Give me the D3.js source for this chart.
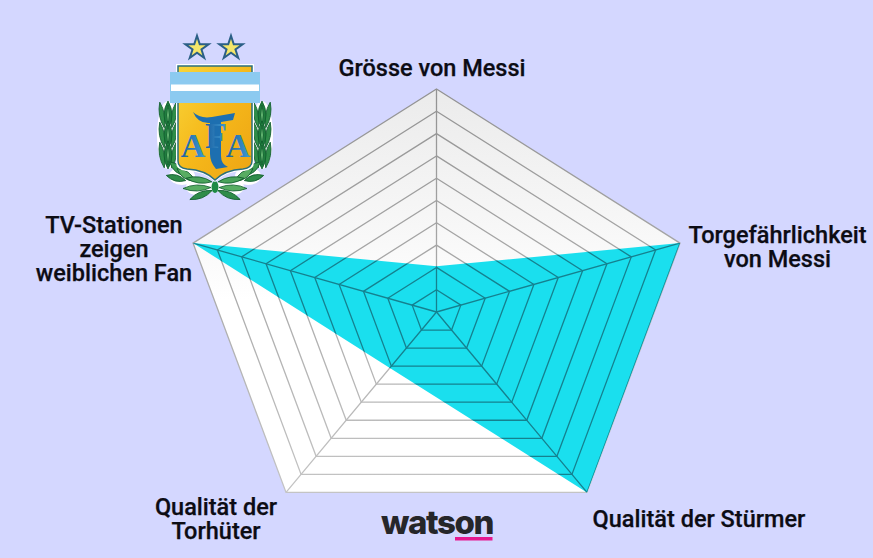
<!DOCTYPE html>
<html>
<head>
<meta charset="utf-8">
<script src="https://cdn.jsdelivr.net/npm/d3@7"></script>
<style>
  html, body { margin: 0; padding: 0; background: #d4d7ff; }
  svg { display: block; }
  text { font-family: Roboto, sans-serif; }
</style>
</head>
<body>
<script>
// chart data
var axes = ["Grösse von Messi", "Torgefährlichkeit", "Qualität der Stürmer", "Qualität der Torhüter", "TV-Stationen"];
var values = [2.05, 10, 10, 3.1, 10];
var levels = [1, 2, 3, 4, 5, 6, 7, 8, 9, 10];

// labels, one entry per line
var labelLines = [
  ["Grösse von Messi"],
  ["Torgefährlichkeit", "von Messi"],
  ["Qualität der Stürmer"],
  ["Qualität der", "Torhüter"],
  ["TV-Stationen", "zeigen", "weiblichen Fan"]
];
var labelX = [432, 777.5, 699, 216, 114];
var labelY = [76, 243, 527, 515, 233];

var width = 873, height = 558;
var cx = 436.5, cy = 312;

var svg = d3.select("body").append("svg")
    .attr("width", width)
    .attr("height", height);

var defs = svg.append("defs");
var bgGrad = defs.append("linearGradient")
    .attr("id", "bgGrad")
    .attr("gradientUnits", "userSpaceOnUse")
    .attr("x1", 0).attr("x2", 0).attr("y1", 89).attr("y2", 300);
bgGrad.append("stop").attr("offset", "0").attr("stop-color", "#ebebeb");
bgGrad.append("stop").attr("offset", "0.7").attr("stop-color", "#f8f8f8");
bgGrad.append("stop").attr("offset", "1").attr("stop-color", "#ffffff");

// grid lines get paler towards the bottom of the pentagon
var lineGrad = defs.append("linearGradient")
    .attr("id", "lineGrad")
    .attr("gradientUnits", "userSpaceOnUse")
    .attr("x1", 0).attr("x2", 0).attr("y1", 89).attr("y2", 492);
lineGrad.append("stop").attr("offset", "0").attr("stop-color", "#929292");
lineGrad.append("stop").attr("offset", "1").attr("stop-color", "#c4c4c4");

// the picture is stretched sideways, so x and y get their own radius
var rx = d3.scaleLinear().domain([0, 10]).range([0, 256]);
var ry = d3.scaleLinear().domain([0, 10]).range([0, 223]);
var angle = d3.scalePoint().domain(d3.range(axes.length + 1)).range([0, 2 * Math.PI]);

function px(i, v) { return cx + rx(v) * Math.sin(angle(i)); }
function py(i, v) { return cy - ry(v) * Math.cos(angle(i)); }

var radar = d3.line()
    .x(function(d) { return px(d.i, d.v); })
    .y(function(d) { return py(d.i, d.v); })
    .curve(d3.curveLinearClosed);

function ring(v) {
  return axes.map(function(a, i) { return {i: i, v: v}; });
}

var shape = radar(values.map(function(v, i) { return {i: i, v: v}; }));

defs.append("clipPath").attr("id", "shapeClip")
  .append("path").attr("d", shape);

function drawGrid(g, colour) {
  g.selectAll(".ring").data(levels).enter().append("path")
      .attr("class", "ring")
      .attr("d", function(d) { return radar(ring(d)); })
      .attr("fill", "none")
      .attr("stroke", colour)
      .attr("stroke-width", 1.3);
  g.selectAll(".spoke").data(axes).enter().append("path")
      .attr("class", "spoke")
      .attr("d", function(d, i) {
        return "M" + cx + "," + cy + "L" + px(i, 10) + "," + py(i, 10) + "Z";
      })
      .attr("fill", "none")
      .attr("stroke", colour)
      .attr("stroke-width", 1.3);
}

var chart = svg.append("g");

// background pentagon
chart.append("path")
    .attr("d", radar(ring(10)))
    .attr("fill", "url(#bgGrad)");

drawGrid(chart.append("g"), "url(#lineGrad)");

// data shape
chart.append("path")
    .attr("d", shape)
    .attr("fill", "#1adfee");

// same grid again, darker, where it shows through the shape
drawGrid(chart.append("g").attr("clip-path", "url(#shapeClip)"), "#15818f");

// axis labels
var labels = svg.append("g");
labelLines.forEach(function(lines, i) {
  var t = labels.append("text")
      .attr("x", labelX[i])
      .attr("y", labelY[i])
      .attr("text-anchor", "middle")
      .attr("font-size", 23.5)
      .attr("font-weight", 500)
      .attr("stroke", "#0c0c14")
      .attr("stroke-width", 0.25)
      .attr("fill", "#0c0c14");
  lines.forEach(function(l, j) {
    t.append("tspan")
        .attr("x", labelX[i])
        .attr("dy", j == 0 ? 0 : 24)
        .text(l);
  });
});

// watson logo
var logo = svg.append("g");
logo.append("text")
    .attr("x", 437).attr("y", 533.5)
    .attr("text-anchor", "middle")
    .style("font-family", "Inter, Roboto, sans-serif")
    .attr("font-size", 33)
    .attr("font-weight", 800)
    .attr("letter-spacing", -1.4)
    .attr("fill", "#26262a")
    .text("watson");
logo.append("rect")
    .attr("x", 455).attr("y", 537).attr("width", 37.5).attr("height", 3.5)
    .attr("fill", "#e5188f");

// AFA crest
var crest = svg.append("g");

var goldGrad = defs.append("linearGradient").attr("id", "gold")
    .attr("x1", 0).attr("x2", 1).attr("y1", 0).attr("y2", 1);
goldGrad.append("stop").attr("offset", "0").attr("stop-color", "#f9d53a");
goldGrad.append("stop").attr("offset", "0.5").attr("stop-color", "#f5b81a");
goldGrad.append("stop").attr("offset", "1").attr("stop-color", "#eda414");

var blueGrad = defs.append("linearGradient").attr("id", "letter")
    .attr("x1", 0).attr("x2", 1).attr("y1", 0).attr("y2", 0);
blueGrad.append("stop").attr("offset", "0").attr("stop-color", "#1a5fa0");
blueGrad.append("stop").attr("offset", "1").attr("stop-color", "#3f9bd3");

function leafPath(w, h) {
  return "M" + (-w) + ",0Q0," + (-h) + " " + w + ",0Q0," + h + " " + (-w) + ",0Z";
}

// white halo first, then the leaves, mirrored about the middle of the shield
function leaf(x, y, rot, w, h, fill) {
  [x, 430 - x].forEach(function(lx, side) {
    crest.append("path")
        .attr("d", leafPath(w, h))
        .attr("transform", "translate(" + lx + "," + y + ") rotate(" + (side ? 180 - rot : rot) + ")")
        .attr("fill", fill)
        .attr("stroke", "#0f5c2c")
        .attr("stroke-width", 0.8);
  });
}

var halo = crest.append("g");
[[168, 135, 11, 34], [182, 176, 13, 9], [200, 187, 14, 9]].forEach(function(p) {
  [p[0], 430 - p[0]].forEach(function(x) {
    halo.append("ellipse")
        .attr("cx", x).attr("cy", p[1]).attr("rx", p[2]).attr("ry", p[3])
        .attr("fill", "#ffffff");
  });
});

// side pods, three leaves each
[115, 135, 155].forEach(function(y) {
  leaf(162, y, 80, 13, 5, "#2f8c49");
  leaf(174, y, 100, 13, 5, "#2f8c49");
  leaf(168, y, 90, 14, 8, "#1f7d3e");
  leaf(168, y, 90, 10, 3, "#63b571");
});

// bottom sprays
leaf(178, 169, 40, 11, 7, "#3c9a52");
leaf(186, 175, 35, 11, 7, "#58ad63");
leaf(176, 178, 15, 10, 6, "#2f8c49");
leaf(199, 180, 8, 13, 6, "#4aa35a");
leaf(197, 188, -2, 14, 6, "#58ad63");
leaf(201, 195, -22, 12, 6, "#2f8c49");
crest.append("ellipse").attr("cx", 215).attr("cy", 187).attr("rx", 3.5).attr("ry", 6).attr("fill", "#1f8a45");

// shield
crest.append("path")
    .attr("d", "M176,64H254V162Q254,170 244,171Q226,171 215,182Q204,171 186,171Q176,170 176,162Z")
    .attr("fill", "#ffffff");
crest.append("path")
    .attr("d", "M178,66H252V161Q252,168 243,169Q225,170 215,180Q205,170 187,169Q178,168 178,161Z")
    .attr("fill", "url(#gold)")
    .attr("stroke", "#2a6f7c")
    .attr("stroke-width", 1.5);

// band
crest.append("rect").attr("x", 170).attr("y", 72).attr("width", 90).attr("height", 31).attr("fill", "#8ccaf0");
crest.append("rect").attr("x", 171).attr("y", 84.5).attr("width", 88).attr("height", 6.5).attr("fill", "#ffffff");

// tall stem and flourish of the F
crest.append("path")
    .attr("d", "M193,112Q200,119 212,117L235,113L233,120L221,122L221,156Q221,164 228,167L216,169Q210,162 210,154L210,123Q198,124 193,112Z")
    .attr("fill", "#1d6fb0");

// letters
[["A", 193, 34, 157], ["F", 216, 36, 148], ["A", 238, 34, 157]].forEach(function(d) {
  crest.append("text")
      .attr("x", d[1]).attr("y", d[3])
      .attr("text-anchor", "middle")
      .style("font-family", "'Liberation Serif', serif")
      .attr("font-size", d[2]).attr("font-weight", 700)
      .attr("fill", "url(#letter)")
      .text(d[0]);
});

// stars
var starPath = d3.symbol().type(d3.symbolStar).size(170);
[197, 231].forEach(function(x) {
  crest.append("path")
      .attr("d", starPath())
      .attr("transform", "translate(" + x + ",48)")
      .attr("fill", "#f4e66a")
      .attr("stroke", "#2b5f86")
      .attr("stroke-width", 2);
});
</script>
</body>
</html>
